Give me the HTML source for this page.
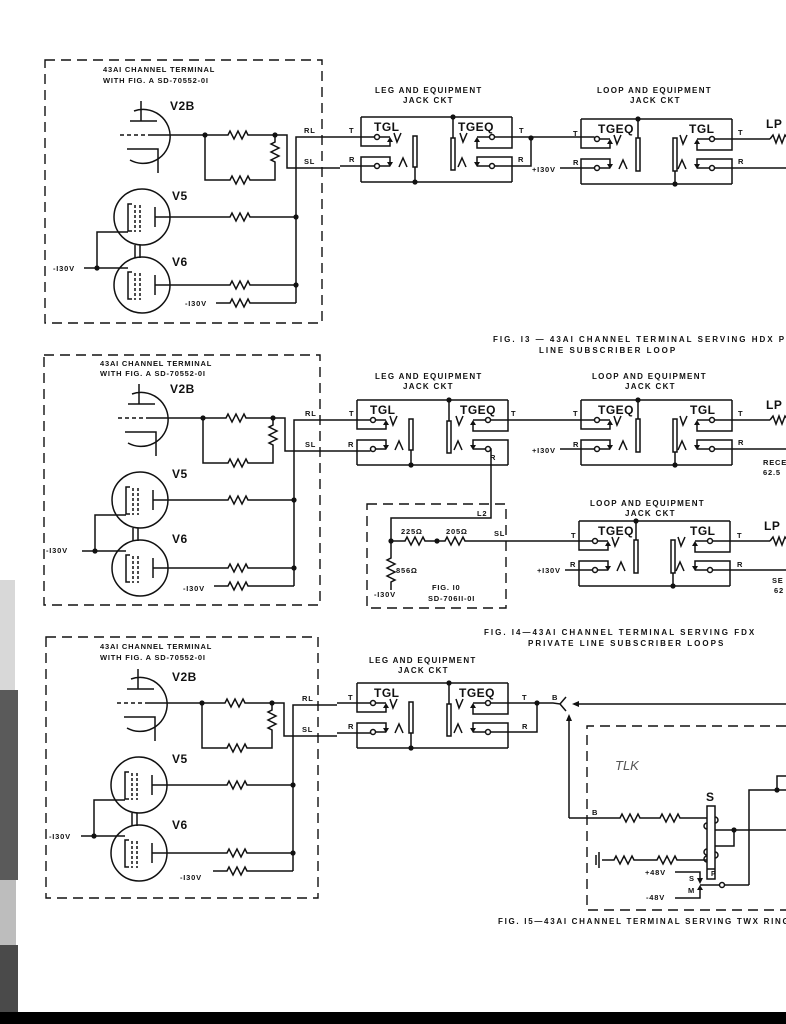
<!DOCTYPE html>
<html><head><meta charset="utf-8"><style>
html,body{margin:0;padding:0;background:#fff;}
svg{display:block;}
text{font-family:"Liberation Sans",sans-serif;font-weight:bold;fill:#111;}
.s{font-size:7.5px;letter-spacing:0.8px;}
.m{font-size:8px;letter-spacing:1.3px;}
.b{font-size:12px;letter-spacing:0.5px;}
.c{font-size:8px;letter-spacing:2px;}
</style></head><body>
<svg width="786" height="1024" viewBox="0 0 786 1024" xmlns="http://www.w3.org/2000/svg">
<defs>
<g id="term" fill="none" stroke="#111" stroke-width="1.5">
 <path d="M134,111 A27,27 0 1 1 130,160"/>
 <path d="M141,101 V121 M130,121 H157"/>
 <path d="M120,135 H150" stroke-dasharray="4 3"/>
 <path d="M150,135 H228 l2,-4 l4,8 l4,-8 l4,8 l4,-8 l2,4 H287 V168 H340"/>
 <path d="M127,149 H158 V173"/>
 <path d="M275,135 V142 l-4,2 l8,4 l-8,4 l8,4 l-8,4 l4,2 V168"/>
 <path d="M205,135 V180 H230 l2,-4 l4,8 l4,-8 l4,8 l4,-8 l2,4 H275 V168"/>
 <path d="M296,303 V137 H340"/>
 <circle cx="142" cy="217" r="28"/>
 <circle cx="142" cy="285" r="28"/>
 <path d="M132,204 H128 V231 H132 M132,272 H128 V299 H132"/>
 <path d="M135,205 V232 M140,205 V232 M135,273 V300 M140,273 V300" stroke-dasharray="3 2"/>
 <path d="M135,245 V258 M140,245 V258"/>
 <path d="M155,207 V227 M155,217 H230 l2,-4 l4,8 l4,-8 l4,8 l4,-8 l2,4 H296"/>
 <path d="M155,275 V295 M155,285 H230 l2,-4 l4,8 l4,-8 l4,8 l4,-8 l2,4 H296"/>
 <path d="M84,268 H128 M97,268 V232 H128"/>
 <path d="M216,303 H230 l2,-4 l4,8 l4,-8 l4,8 l4,-8 l2,4 H296"/>
 <g fill="#111" stroke="none"><circle cx="205" cy="135" r="2.6"/><circle cx="275" cy="135" r="2.6"/><circle cx="296" cy="217" r="2.6"/><circle cx="296" cy="285" r="2.6"/><circle cx="97" cy="268" r="2.6"/></g>
</g>
<g id="jk" fill="none" stroke="#111" stroke-width="1.5">
 <path d="M0,0 H151 M0,0 V29 H29 V24 M0,65 V40 H29 V46 M0,65 H151 M151,0 V31 H116 V24 M151,65 V40 H116 V46"/>
 <path d="M18.5,20 H29 M18.5,49 H29 M128.5,20 H116 M128.5,49 H116"/>
 <path d="M33,16 L36,25 L40,16 M38,50 L42,41 L46,50 M99,16 L102,25 L106,16 M97,50 L101,41 L105,50"/>
 <g fill="#111" stroke="none"><path d="M26,25 L29,20 L32,25Z M26,45 L29,50 L32,45Z M113,25 L116,20 L119,25Z M113,45 L116,50 L119,45Z"/></g>
 <g fill="#fff"><circle cx="16" cy="20" r="2.5"/><circle cx="16" cy="49" r="2.5"/><circle cx="131" cy="20" r="2.5"/><circle cx="131" cy="49" r="2.5"/></g>
</g>
<g id="legs" fill="none" stroke="#111" stroke-width="1.5">
 <rect x="52" y="19" width="4" height="31" fill="#fff"/><rect x="90" y="21" width="4" height="32" fill="#fff"/>
 <path d="M54,50 V65 M92,0 V21"/>
 <g fill="#111" stroke="none"><circle cx="92" cy="0" r="2.6"/><circle cx="54" cy="65" r="2.6"/></g>
</g>
<g id="loops" fill="none" stroke="#111" stroke-width="1.5">
 <rect x="55" y="19" width="4" height="33" fill="#fff"/><rect x="92" y="19" width="4" height="33" fill="#fff"/>
 <path d="M57,0 V19 M94,52 V65"/>
 <g fill="#111" stroke="none"><circle cx="57" cy="0" r="2.6"/><circle cx="94" cy="65" r="2.6"/></g>
</g>
<path id="lp" d="M0,0 l3,-4 l3,8 l3,-8 l3,8 l3,-8 l3,4" fill="none" stroke="#111" stroke-width="1.5"/>
</defs>

<rect x="0" y="580" width="15" height="110" fill="#d8d8d8"/>
<rect x="0" y="690" width="18" height="190" fill="#5a5a5a"/>
<rect x="0" y="880" width="16" height="65" fill="#bdbdbd"/>
<rect x="0" y="945" width="18" height="68" fill="#4a4a4a"/>
<rect x="0" y="1012" width="786" height="12" fill="#000"/>

<g fill="none" stroke="#111" stroke-width="1.4" stroke-dasharray="10 6">
 <rect x="45" y="60" width="277" height="263"/>
 <rect x="44" y="355" width="276" height="250"/>
 <rect x="46" y="637" width="272" height="261"/>
 <path d="M367,504 H506 V608 H367 Z"/>
 <path d="M786,726 H587 V910 H786"/>
</g>

<!-- SECTION 1 -->
<use href="#term"/>
<text class="s" x="103" y="72">43AI CHANNEL TERMINAL</text>
<text class="s" x="103" y="83">WITH FIG. A SD-70552-0I</text>
<text class="b" x="170" y="110">V2B</text>
<text class="b" x="172" y="200">V5</text>
<text class="b" x="172" y="266">V6</text>
<text class="s" x="53" y="271">-I30V</text>
<text class="s" x="185" y="306">-I30V</text>
<text class="s" x="304" y="133">RL</text>
<text class="s" x="304" y="164">SL</text>
<text class="m" x="375" y="93">LEG AND EQUIPMENT</text>
<text class="m" x="403" y="103">JACK CKT</text>
<text class="m" x="597" y="93">LOOP AND EQUIPMENT</text>
<text class="m" x="630" y="103">JACK CKT</text>
<g transform="translate(361,117)"><use href="#jk"/><use href="#legs"/></g>
<g transform="translate(581,119)"><use href="#jk"/><use href="#loops"/></g>
<text class="b" x="374" y="131">TGL</text><text class="b" x="458" y="131">TGEQ</text>
<text class="b" x="598" y="133">TGEQ</text><text class="b" x="689" y="133">TGL</text>
<g fill="none" stroke="#111" stroke-width="1.5">
 <path d="M340,137 H374.5 M340,166 H374.5 M494.5,137 H594.5 M494.5,166 H531 V137 M560,168 H594.5 M714.5,139 H770 M714.5,168 H786"/>
</g>
<use href="#lp" x="770" y="139"/>
<circle cx="531" cy="138" r="2.6" fill="#111"/>
<text class="s" x="349" y="133">T</text><text class="s" x="349" y="162">R</text>
<text class="s" x="519" y="133">T</text><text class="s" x="518" y="162">R</text>
<text class="s" x="573" y="136">T</text><text class="s" x="573" y="165">R</text>
<text class="s" x="532" y="172">+I30V</text>
<text class="s" x="738" y="135">T</text><text class="s" x="738" y="164">R</text>
<text class="b" x="766" y="128">LP</text>
<text class="c" x="493" y="342">FIG. I3 — 43AI CHANNEL TERMINAL SERVING HDX P</text>
<text class="c" x="539" y="353">LINE SUBSCRIBER LOOP</text>

<!-- SECTION 2 -->
<use href="#term" transform="translate(-2,283)"/>
<text class="s" x="100" y="366">43AI CHANNEL TERMINAL</text>
<text class="s" x="100" y="376">WITH FIG. A SD-70552-0I</text>
<text class="b" x="170" y="393">V2B</text>
<text class="b" x="172" y="478">V5</text>
<text class="b" x="172" y="543">V6</text>
<text class="s" x="46" y="553">-I30V</text>
<text class="s" x="183" y="591">-I30V</text>
<text class="s" x="305" y="416">RL</text>
<text class="s" x="305" y="447">SL</text>
<text class="m" x="375" y="379">LEG AND EQUIPMENT</text>
<text class="m" x="403" y="389">JACK CKT</text>
<text class="m" x="592" y="379">LOOP AND EQUIPMENT</text>
<text class="m" x="625" y="389">JACK CKT</text>
<g transform="translate(357,400)"><use href="#jk"/><use href="#legs"/></g>
<g transform="translate(581,400)"><use href="#jk"/><use href="#loops"/></g>
<text class="b" x="370" y="414">TGL</text><text class="b" x="460" y="414">TGEQ</text>
<text class="b" x="598" y="414">TGEQ</text><text class="b" x="690" y="414">TGL</text>
<g fill="none" stroke="#111" stroke-width="1.5">
 <path d="M338,420 H370.5 M338,451 H370.5 M490.5,420 H594.5 M490.5,449 H491 V518 H391 V558 l-4,2 l8,4 l-4,2 l-4,2 l8,4 l-4,2 l-4,2 l8,4 l-4,2 V590 M391,541 H405 l2,-4 l4,8 l4,-8 l4,8 l4,-8 l2,4 H445 l2,-4 l4,8 l4,-8 l4,8 l4,-8 l2,4 H592.5 M560,449 H594.5 M714.5,420 H770 M714.5,449 H786"/>
</g>
<use href="#lp" x="770" y="420"/>
<circle cx="437" cy="541" r="2.6" fill="#111"/><circle cx="391" cy="541" r="2.6" fill="#111"/>
<text class="s" x="349" y="416">T</text><text class="s" x="348" y="447">R</text>
<text class="s" x="511" y="416">T</text><text class="s" x="490" y="460">R</text>
<text class="s" x="573" y="416">T</text><text class="s" x="573" y="447">R</text>
<text class="s" x="532" y="453">+I30V</text>
<text class="s" x="738" y="416">T</text><text class="s" x="738" y="445">R</text>
<text class="b" x="766" y="409">LP</text>
<text class="s" x="763" y="465">RECE</text><text class="s" x="763" y="475">62.5</text>
<text class="s" x="477" y="516">L2</text>
<text class="s" x="401" y="534">225Ω</text><text class="s" x="446" y="534">205Ω</text>
<text class="s" x="494" y="536">SL</text>
<text class="s" x="396" y="573">856Ω</text>
<text class="s" x="374" y="597">-I30V</text>
<text class="s" x="432" y="590">FIG. I0</text>
<text class="s" x="428" y="601">SD-706II-0I</text>
<text class="m" x="590" y="506">LOOP AND EQUIPMENT</text>
<text class="m" x="625" y="516">JACK CKT</text>
<g transform="translate(579,521)"><use href="#jk"/><use href="#loops"/></g>
<text class="b" x="598" y="535">TGEQ</text><text class="b" x="690" y="535">TGL</text>
<g fill="none" stroke="#111" stroke-width="1.5"><path d="M565,570 H592.5 M712.5,541 H770 M712.5,570 H786"/></g>
<use href="#lp" x="770" y="541"/>
<text class="s" x="571" y="538">T</text><text class="s" x="570" y="567">R</text>
<text class="s" x="537" y="573">+I30V</text>
<text class="s" x="737" y="538">T</text><text class="s" x="737" y="567">R</text>
<text class="b" x="764" y="530">LP</text>
<text class="s" x="772" y="583">SE</text><text class="s" x="774" y="593">62</text>
<text class="c" x="484" y="635">FIG. I4—43AI CHANNEL TERMINAL SERVING FDX</text>
<text class="c" x="528" y="646">PRIVATE LINE SUBSCRIBER LOOPS</text>

<!-- SECTION 3 -->
<use href="#term" transform="translate(-3,568)"/>
<text class="s" x="100" y="649">43AI CHANNEL TERMINAL</text>
<text class="s" x="100" y="660">WITH FIG. A SD-70552-0I</text>
<text class="b" x="172" y="681">V2B</text>
<text class="b" x="172" y="763">V5</text>
<text class="b" x="172" y="829">V6</text>
<text class="s" x="49" y="839">-I30V</text>
<text class="s" x="180" y="880">-I30V</text>
<text class="s" x="302" y="701">RL</text>
<text class="s" x="302" y="732">SL</text>
<text class="m" x="369" y="663">LEG AND EQUIPMENT</text>
<text class="m" x="398" y="673">JACK CKT</text>
<g transform="translate(357,683)"><use href="#jk"/><use href="#legs"/></g>
<text class="b" x="374" y="697">TGL</text><text class="b" x="459" y="697">TGEQ</text>
<g fill="none" stroke="#111" stroke-width="1.5">
 <path d="M337,703 H370.5 M337,733 H370.5 M490.5,703 H537 H553 L560,704 L566,697 M560,704 L566,711 M490.5,732 H537 V703"/>
 <path d="M786,704 H576 M569,818 V718 M569,818 H620 l2,-4 l4,8 l4,-8 l4,8 l4,-8 l2,4 H660 l2,-4 l4,8 l4,-8 l4,8 l4,-8 l2,4 H707"/>
 <path d="M596,855 V865 M599,852 V868 M602,860 H614 l2,-4 l4,8 l4,-8 l4,8 l4,-8 l2,4 H657 l2,-4 l4,8 l4,-8 l4,8 l4,-8 l2,4 H707"/>
 <rect x="707" y="806" width="8" height="73" fill="#fff"/>
 <path d="M707,869 H715 M715,830 H786 M734,830 V846 H715 M749,885 V790 H786 M777,790 V776 H786 M724.5,885 H749 M700,885 H719.5"/>
 <path d="M715,817 a3,3 0 0 1 0,6 M707,823 a3,3 0 0 0 0,6 M707,849 a3,3 0 0 0 0,6 M715,852 a3,3 0 0 1 0,6 M707,856 a3,3 0 0 0 0,6"/>
 <path d="M675,872 H700 V878 M675,898 H700 V889"/>
 <circle cx="722" cy="885" r="2.5" fill="#fff"/>
</g>
<g fill="#111"><path d="M572,704 L579,701 L579,707Z M569,714 L566,721 L572,721Z M697,878 L700,884 L703,878Z M697,890 L700,885 L703,890Z"/>
<circle cx="537" cy="703" r="2.6"/><circle cx="734" cy="830" r="2.6"/><circle cx="777" cy="790" r="2.6"/></g>
<text x="711" y="876" style="font-size:7px">P</text>
<text class="s" x="348" y="700">T</text><text class="s" x="348" y="729">R</text>
<text class="s" x="522" y="700">T</text><text class="s" x="522" y="729">R</text>
<text class="s" x="552" y="700">B</text>
<text class="s" x="592" y="815">B</text>
<text class="b" x="706" y="801">S</text>
<text class="s" x="645" y="875">+48V</text>
<text class="s" x="689" y="881">S</text>
<text class="s" x="688" y="893">M</text>
<text class="s" x="646" y="900">-48V</text>
<text x="615" y="770" style="font-size:13px;font-weight:normal;font-style:italic;fill:#555">TLK</text>
<text class="c" x="498" y="924" style="letter-spacing:1.7px">FIG. I5—43AI CHANNEL TERMINAL SERVING TWX RINGI</text>
</svg>
</body></html>
